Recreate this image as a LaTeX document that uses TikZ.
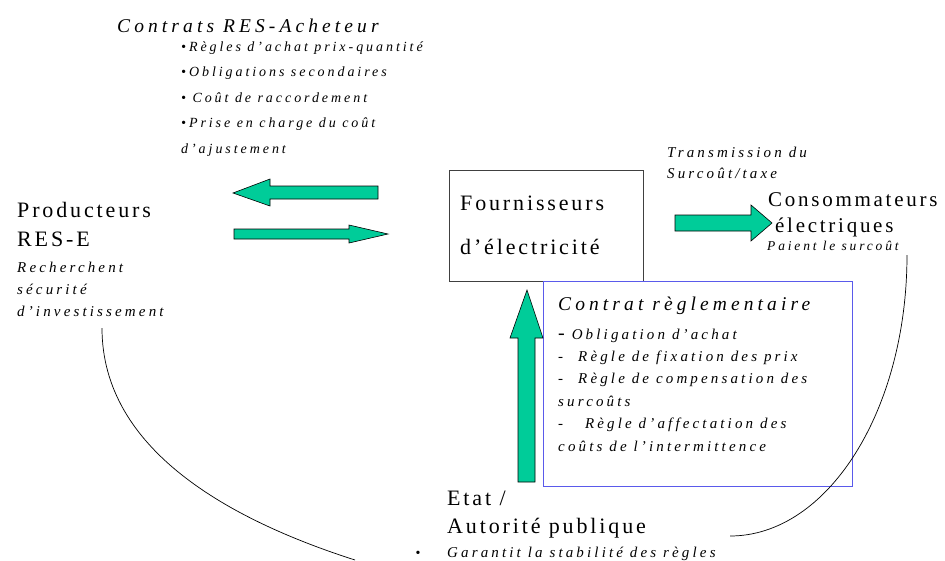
\documentclass[tikz,border=0pt]{standalone}
\usepackage{fontspec}
\setmainfont{Liberation Serif}[LetterSpace=13]
\newfontfamily\petitfont{Liberation Serif}[LetterSpace=21]
\definecolor{vert}{RGB}{0,204,153}
\definecolor{bleu}{RGB}{90,90,235}
\tikzset{gros/.style={anchor=base west, inner sep=0, align=left, font=\fontsize{22}{29}\selectfont}}
\tikzset{titre/.style={anchor=base west, inner sep=0, font=\fontsize{19.5}{24}\petitfont\itshape}}
\tikzset{petit/.style={anchor=base west, inner sep=0, align=left, font=\fontsize{15}{22}\petitfont\itshape}}
\tikzset{fleche/.style={draw=black, fill=vert, line width=0.6pt}}
\tikzset{lien/.style={draw, line width=0.7pt}}

\begin{document}
\begin{tikzpicture}[x=1pt,y=-1pt]
                \useasboundingbox (0,0) rectangle (945,560);
                % contrats (base = derniere ligne)
                \node[titre] (ctr) at (117,32) {Contrats RES-Acheteur};
                \node[petit,font=\fontsize{14}{25.5}\petitfont\itshape] (ctrl) at (181,153) {•Règles d’achat prix-quantité\\•Obligations secondaires\\• Coût de raccordement\\•Prise en charge du coût\\d’ajustement};
                % producteurs
                \node[gros] (prod) at (17,246) {Producteurs\\RES-E};
                \node[petit] (prods) at (17,316) {Recherchent\\sécurité\\d’investissement};
                % fournisseurs
                \draw[black!75,line width=0.6pt] (449,170) rectangle (643,281);
                \node[gros,font=\fontsize{22}{44}\selectfont] (four) at (460,254) {Fournisseurs\\d’électricité};
                % consommateurs
                \node[petit,font=\fontsize{15}{21}\petitfont\itshape] (trans) at (667,178) {Transmission du\\Surcoût/taxe};
                \node[gros,font=\fontsize{21}{26}\selectfont] (cons) at (768,206) {Consommateurs};
                \node[gros,font=\fontsize{21}{26}\selectfont] (elec) at (775,232) {électriques};
                \node[petit,font=\fontsize{13.5}{20}\petitfont\itshape] (paie) at (767,250) {Paient le surcoût};
                % contrat reglementaire
                \draw[bleu,line width=0.8pt] (543,281) rectangle (852,486);
                \node[titre] (regl) at (558,310) {Contrat règlementaire};
                \node[petit,font=\fontsize{15}{22.4}\petitfont\itshape] (regll) at (558,451) {{\fontsize{20}{22}\selectfont -} Obligation d’achat\\-\quad Règle de fixation des prix\\-\quad Règle de compensation des\\surcoûts\\-\quad\ Règle d’affectation des\\coûts de l’intermittence};
                % etat
                \node[gros,font=\fontsize{22}{28}\selectfont] (etat) at (447,533) {Etat /\\Autorité publique};
                \node[petit] (gar) at (447,557) {Garantit la stabilité des règles};
                \node[anchor=base, inner sep=0, font=\fontsize{14}{14}\selectfont] (puce) at (418,557) {•};
                % fleches
                \draw[fleche] (378,186) -- (270,186) -- (270,179) -- (233,193) -- (270,206) -- (270,199) -- (378,199) -- cycle;
                \draw[fleche] (234,229) -- (349,229) -- (349,225) -- (388,234) -- (349,243) -- (349,239) -- (234,239) -- cycle;
                \draw[fleche] (675,215) -- (751,215) -- (751,205) -- (772,223) -- (751,241) -- (751,231) -- (675,231) -- cycle;
                \draw[fleche] (518,482) -- (518,338) -- (510,338) -- (527,290) -- (543,338) -- (535,338) -- (535,482) -- cycle;
                % liens
                \coordinate (g1) at (102,328);
                \coordinate (g2) at (355,560);
                \coordinate (d1) at (907,255);
                \coordinate (d2) at (730,536);
                \draw[lien] (g1) .. controls (102,450) and (230,520) .. (g2);
                \draw[lien] (d1) .. controls (907,410) and (828,536) .. (d2);
\end{tikzpicture}
\end{document}
